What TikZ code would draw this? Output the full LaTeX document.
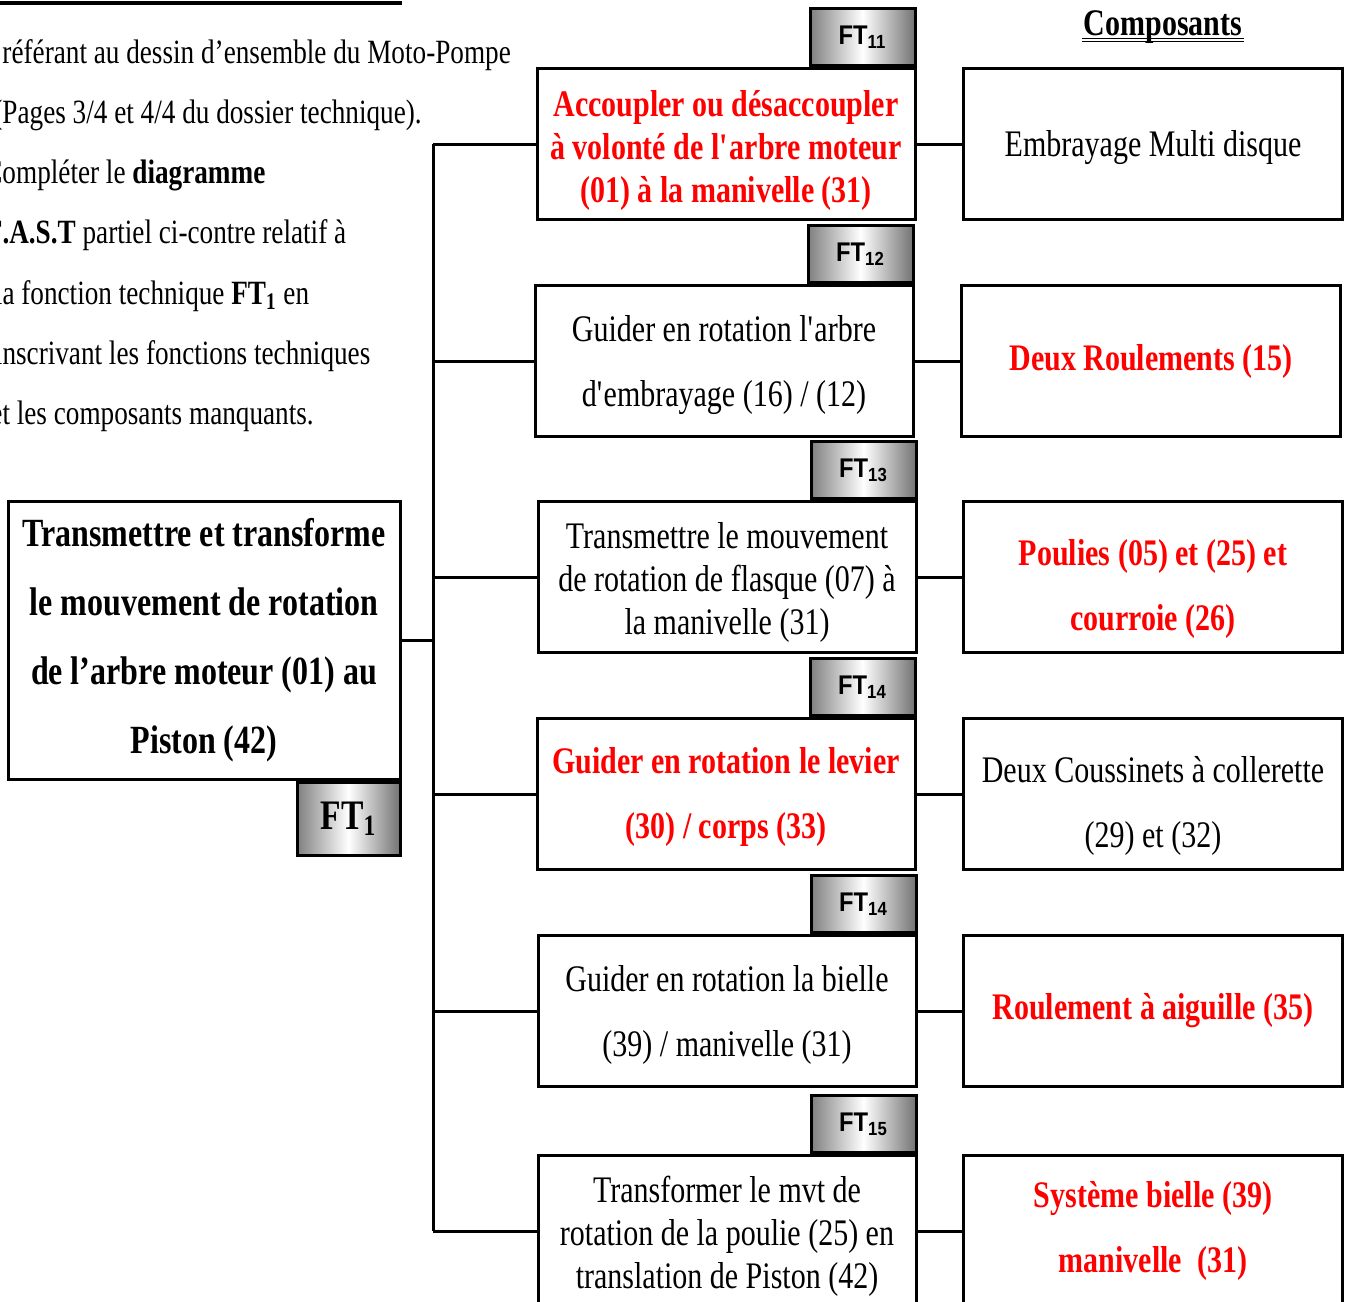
\documentclass[tikz,border=0pt]{standalone}
\usepackage{fontspec}
\setmainfont[FakeStretch=0.8]{Liberation Serif}
\setsansfont[FakeStretch=0.88]{Liberation Sans}
\usetikzlibrary{positioning}
\definecolor{ftred}{RGB}{255,0,0}
\newcommand{\ftsub}[1]{\textsubscript{\fontsize{9.5}{9.5}\selectfont#1}}
\newcommand{\q}{\textquotesingle}

\begin{document}
\begin{tikzpicture}[x=0.5pt, y=-0.5pt, line width=1.5pt,
  fbox/.style={draw, minimum width=189pt, minimum height=75.5pt, align=center, inner sep=0pt},
  cbox/.style={fbox, minimum width=189.5pt},
  one/.style={font=\fontsize{18.75}{18}\selectfont},
  l3/.style={font=\fontsize{18.75}{21.5}\selectfont},
  l2/.style={font=\fontsize{18.75}{32.5}\selectfont},
  down/.style={execute at begin node={\rule{0pt}{#1}}},
  answer/.style={text=ftred, execute at begin node=\bfseries},
  tagshade/.style={left color=black!50, right color=black!55, middle color=white},
  tag/.style={draw, tagshade, minimum width=52.5pt, minimum height=28.5pt, inner sep=0pt, anchor=south east, font=\sffamily\bfseries\fontsize{13.5}{13.5}\selectfont},
  para/.style={anchor=base west, inner sep=0pt, font=\fontsize{17}{17}\selectfont}]
\useasboundingbox (0,0) rectangle (1352,1301);
\clip (0,0) rectangle (1352,1301);

% consigne
\draw[line width=2pt] (0,3) -- (402,3);
\foreach \txt [count=\i] in {référant au dessin d’ensemble du Moto-Pompe,
  \llap{(}Pages 3/4 et 4/4 du dossier technique).,
  \llap{C}ompléter le \textbf{diagramme},
  \textbf{\llap{F}.A.S.T} partiel ci-contre relatif à,
  \llap{l}a fonction technique \textbf{FT\textsubscript{1}} en,
  \llap{i}nscrivant les fonctions techniques,
  \llap{e}t les composants manquants.}
  \node[para] (p\i) at (1,{63+60.3*(\i-1)}) {\txt};

% fonction principale
\node[draw, minimum width=196pt, minimum height=139pt, align=center, inner sep=0pt,
  font=\bfseries\fontsize{20}{34.5}\selectfont] (ft1) at (204,640)
  {Transmettre et transforme\\le mouvement de rotation\\de l’arbre moteur (01) au\\Piston (42)};
\node[draw, tagshade, minimum width=51.5pt, minimum height=36.5pt, inner sep=0pt, anchor=north east,
  font=\bfseries\fontsize{21}{21}\selectfont] (t1) at (ft1.south east) {FT\textsubscript{1}};

% fonctions techniques
\node[fbox, l3, down=62pt, answer] (f1) at (726,144) {Accoupler ou désaccoupler\\à volonté de l\q arbre moteur\\(01) à la manivelle (31)};
\node[fbox, l2, down=49.5pt] (f2) at (724,361) {Guider en rotation l\q arbre\\d\q embrayage (16) / (12)};
\node[fbox, l3, down=61pt] (f3) at (727,577) {Transmettre le mouvement\\de rotation de flasque (07) à\\la manivelle (31)};
\node[fbox, l2, down=48.5pt, answer] (f4) at (726,794) {Guider en rotation le levier\\(30) / corps (33)};
\node[fbox, l2, down=49.5pt] (f5) at (727,1011) {Guider en rotation la bielle\\(39) / manivelle (31)};
\node[fbox, l3, down=61pt] (f6) at (727,1231) {Transformer le mvt de\\rotation de la poulie (25) en\\translation de Piston (42)};

\node[tag] (t11) at (f1.north east) {FT\ftsub{11}};
\node[tag] (t12) at (f2.north east) {FT\ftsub{12}};
\node[tag] (t13) at (f3.north east) {FT\ftsub{13}};
\node[tag] (t14) at (f4.north east) {FT\ftsub{14}};
\node[tag] (t14b) at (f5.north east) {FT\ftsub{14}};
\node[tag] (t15) at (f6.north east) {FT\ftsub{15}};

% composants
\node[font=\bfseries\fontsize{18.75}{18}\selectfont, inner sep=0pt, anchor=base] (comp) at (1163,35) {Composants};
\draw[line width=0.6pt] ([yshift=-1.6pt]comp.base west) -- ([yshift=-1.6pt]comp.base east);
\draw[line width=0.6pt] ([yshift=-3.4pt]comp.base west) -- ([yshift=-3.4pt]comp.base east);

\node[cbox, one, down=17pt] (c1) at (1153,144) {Embrayage Multi disque};
\node[cbox, one, answer] (c2) at (1151,361) {Deux Roulements (15)};
\node[cbox, l2, down=57.5pt, answer] (c3) at (1153,577) {Poulies (05) et (25) et\\courroie (26)};
\node[cbox, l2, down=57.5pt] (c4) at (1153,794) {Deux Coussinets à collerette\\(29) et (32)};
\node[cbox, one, answer] (c5) at (1153,1011) {Roulement à aiguille (35)};
\node[cbox, l2, answer] (c6) at (1153,1231) {Système bielle (39)\\manivelle~ (31)};

% liaisons
\coordinate (trunk) at (433,0);
\draw (ft1.east) -- (ft1.east -| trunk);
\draw (f1.west -| trunk) -- (f6.west -| trunk);
\foreach \i in {1,...,6} {
  \draw (f\i.west -| trunk) -- (f\i.west);
  \draw (f\i.east) -- (c\i.west);
}
\end{tikzpicture}
\end{document}
